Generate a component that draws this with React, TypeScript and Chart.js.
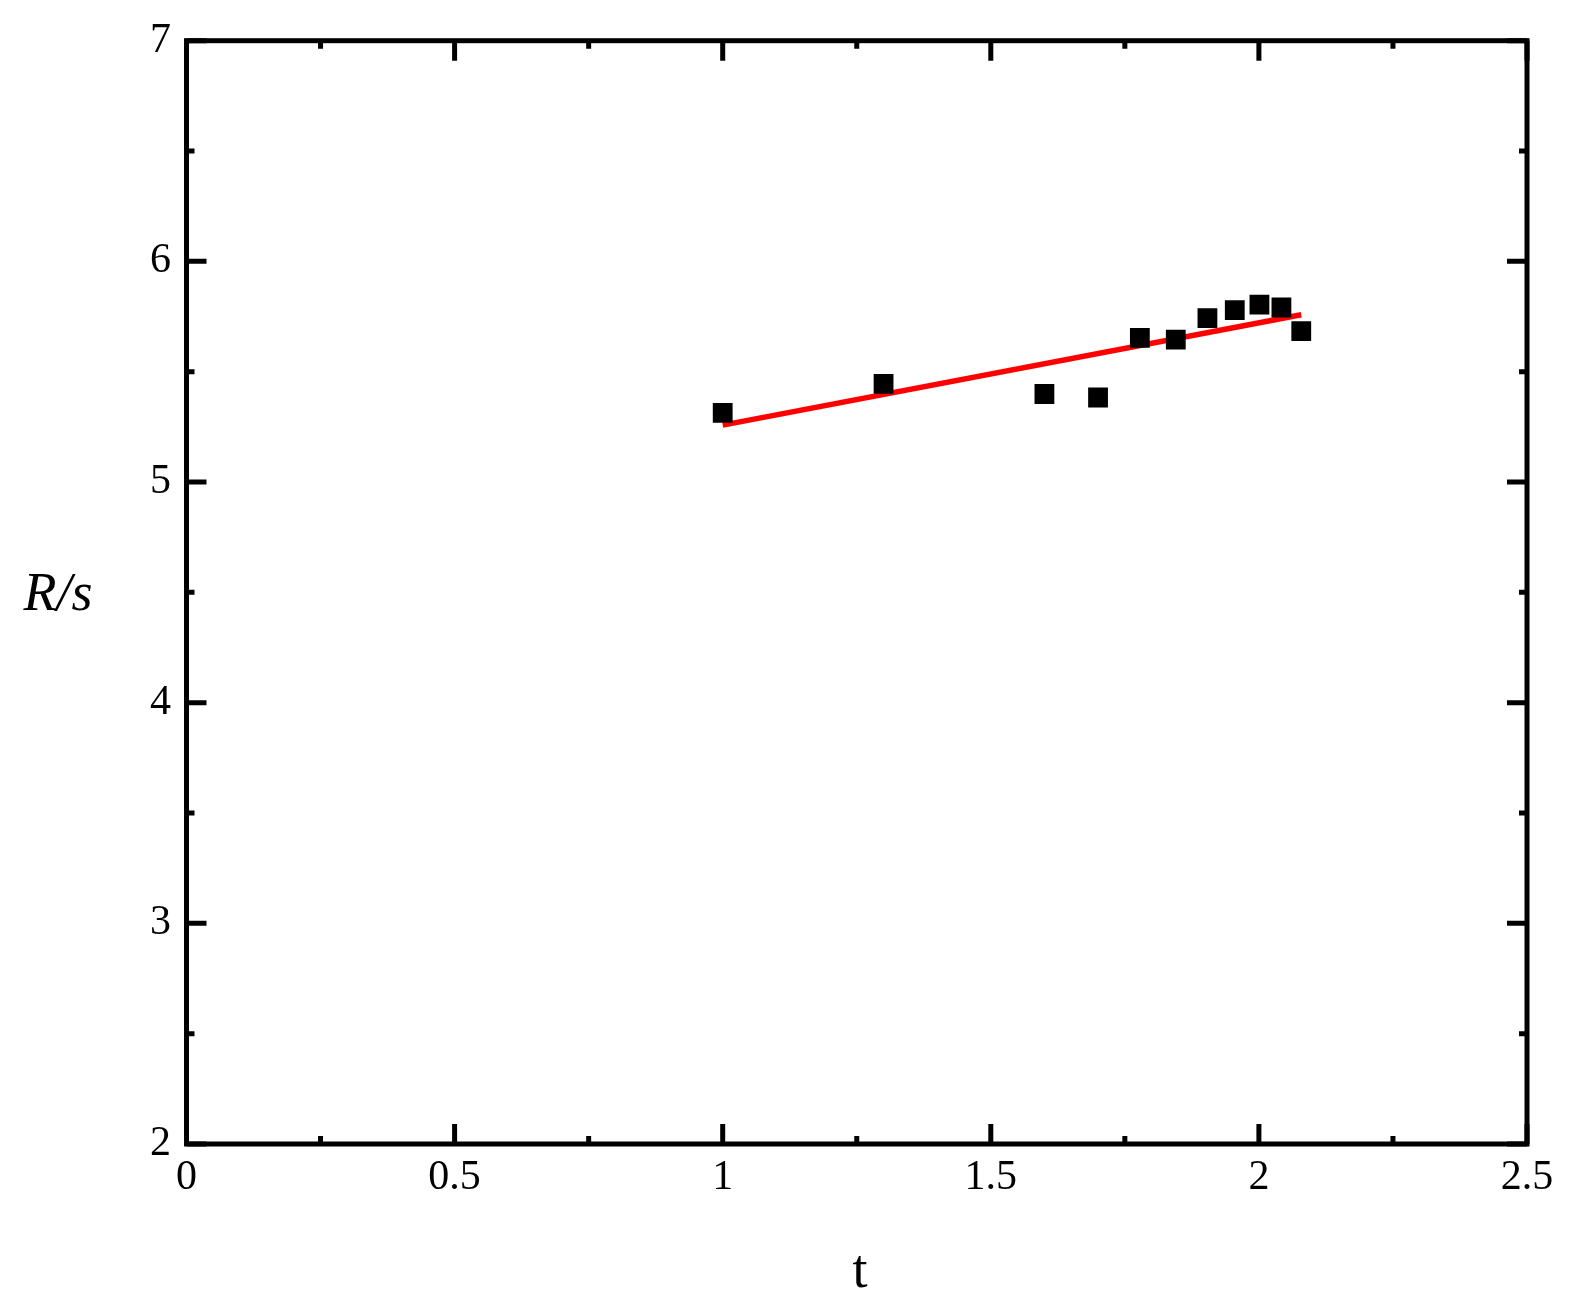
import React, { useEffect, useRef } from "react";
import { Chart, registerables } from "chart.js";

Chart.register(...registerables);

const tValues = [1.0, 1.3, 1.6, 1.7, 1.778, 1.845, 1.904, 1.955, 2.001, 2.042, 2.079];
const rValues = [5.313, 5.445, 5.399, 5.383, 5.653, 5.645, 5.743, 5.779, 5.804, 5.791, 5.684];
const fitT = [1.0, 2.079];
const fitR = [5.258, 5.758];
const xMajorTicks = [0, 0.5, 1, 1.5, 2, 2.5];
const xMinorTicks = [0.25, 0.75, 1.25, 1.75, 2.25];
const yMajorTicks = [2, 3, 4, 5, 6, 7];
const yMinorTicks = [2.5, 3.5, 4.5, 5.5, 6.5];
const xTitle = "t";
const yTitle = "R/s";

const FONT = "'Liberation Serif', 'Times New Roman', serif";

const framePlugin = {
  id: "frame",
  afterDraw(chart: any) {
    const ctx = chart.ctx;
    const { left, right, top, bottom } = chart.chartArea;
    const xs = chart.scales.x;
    const ys = chart.scales.y;
    ctx.save();
    ctx.strokeStyle = "#000";
    ctx.lineWidth = 5;
    ctx.lineCap = "butt";
    ctx.strokeRect(left, top, right - left, bottom - top);
    const major = 20;
    const minor = 8;
    ctx.beginPath();
    xMajorTicks.forEach((v) => {
      const px = xs.getPixelForValue(v);
      ctx.moveTo(px, bottom);
      ctx.lineTo(px, bottom - major);
      ctx.moveTo(px, top);
      ctx.lineTo(px, top + major);
    });
    xMinorTicks.forEach((v) => {
      const px = xs.getPixelForValue(v);
      ctx.moveTo(px, bottom);
      ctx.lineTo(px, bottom - minor);
      ctx.moveTo(px, top);
      ctx.lineTo(px, top + minor);
    });
    yMajorTicks.forEach((v) => {
      const py = ys.getPixelForValue(v);
      ctx.moveTo(left, py);
      ctx.lineTo(left + major, py);
      ctx.moveTo(right, py);
      ctx.lineTo(right - major, py);
    });
    yMinorTicks.forEach((v) => {
      const py = ys.getPixelForValue(v);
      ctx.moveTo(left, py);
      ctx.lineTo(left + minor, py);
      ctx.moveTo(right, py);
      ctx.lineTo(right - minor, py);
    });
    ctx.stroke();

    ctx.fillStyle = "#000";
    ctx.textAlign = "center";
    ctx.textBaseline = "alphabetic";
    ctx.font = `54px ${FONT}`;
    ctx.fillText(xTitle, 860, 1287);
    ctx.font = `italic 54px ${FONT}`;
    ctx.fillText(yTitle, 58, 610);
    ctx.restore();
  },
};

export default function App() {
  const ref = useRef<HTMLCanvasElement | null>(null);
  useEffect(() => {
    if (!ref.current) return;
    const chart = new Chart(ref.current, {
      type: "scatter",
      data: {
        datasets: [
          {
            label: "data",
            data: tValues.map((t, i) => ({ x: t, y: rValues[i] })),
            pointStyle: "rect",
            pointRadius: 14,
            pointBackgroundColor: "#000",
            pointBorderWidth: 0,
            showLine: false,
          },
          {
            label: "fit",
            data: fitT.map((t, i) => ({ x: t, y: fitR[i] })),
            showLine: true,
            borderColor: "#ff0000",
            borderWidth: 5.5,
            pointRadius: 0,
          },
        ],
      },
      options: {
        animation: false,
        responsive: false,
        devicePixelRatio: 1,
        layout: { padding: { top: 40.5, right: 44, left: 0, bottom: 0 } },
        plugins: { legend: { display: false }, tooltip: { enabled: false } },
        scales: {
          x: {
            type: "linear",
            min: 0,
            max: 2.5,
            grid: { display: false, drawTicks: false },
            border: { display: false },
            ticks: {
              stepSize: 0.5,
              padding: 9,
              color: "#000",
              font: { family: FONT, size: 42 },
              maxRotation: 0,
              callback: (v: any) => String(Number(v)),
            },
            afterFit: (s: any) => {
              s.height = 159;
            },
          },
          y: {
            type: "linear",
            min: 2,
            max: 7,
            grid: { display: false, drawTicks: false },
            border: { display: false },
            ticks: {
              stepSize: 1,
              padding: 15.5,
              color: "#000",
              font: { family: FONT, size: 42 },
              callback: (v: any) => String(Number(v)),
            },
            afterFit: (s: any) => {
              s.width = 186.5;
            },
          },
        },
      },
      plugins: [framePlugin],
    });
    return () => chart.destroy();
  }, []);
  return (
    <div style={{ position: "fixed", left: 0, top: 0, width: 1571, height: 1303, background: "#fff" }}>
      <canvas ref={ref} width={1571} height={1303} />
    </div>
  );
}
